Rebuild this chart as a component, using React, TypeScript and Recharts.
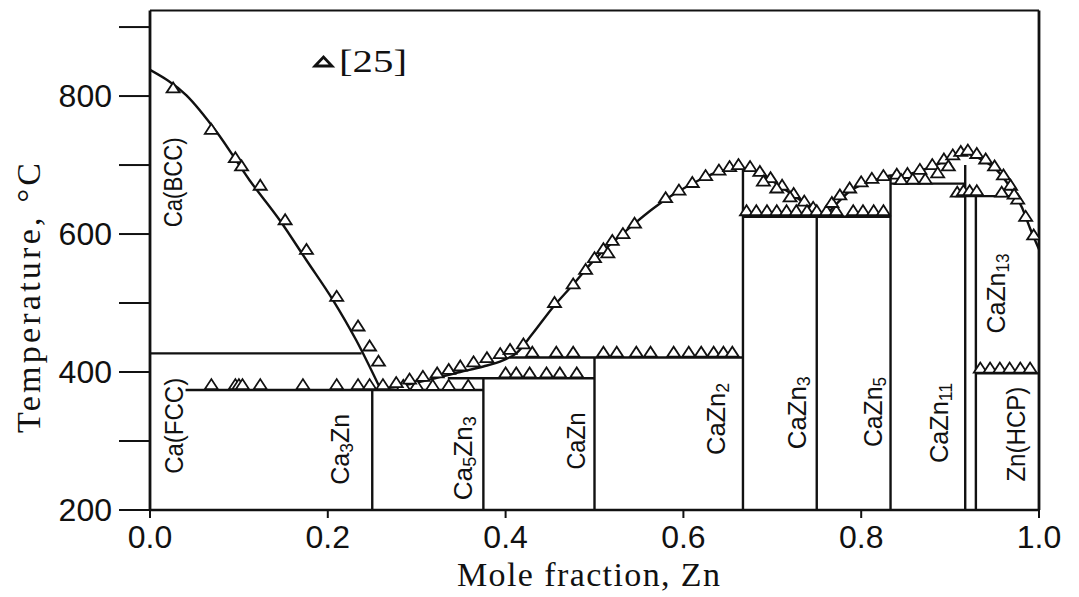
import React from 'react';
import { ComposedChart, Line, Scatter, XAxis, YAxis, ReferenceLine, Legend } from 'recharts';

// ---- axes ----
const xTicks = [0, 0.2, 0.4, 0.6, 0.8, 1.0];
const yTicksLeft = [200, 300, 400, 500, 600, 700, 800, 900];
const yTicksRight = [300, 400, 500, 600, 700, 800];
const yDomain: [number, number] = [200, 924];

// ---- calculated liquidus (Ca side) [x, T] ----
const caLiquidus: [number, number][] = [
  [0.0, 838], [0.041, 801], [0.075, 748], [0.112, 678], [0.146, 620],
  [0.176, 562], [0.206, 504], [0.232, 446], [0.259, 376],
];

// ---- calculated liquidus (Zn-rich side) [x, T] ----
const znLiquidus: [number, number][] = [
  [0.259, 376], [0.274, 378], [0.311, 388], [0.349, 400], [0.375, 408],
  [0.397, 417], [0.412, 427], [0.43, 455], [0.454, 495], [0.474, 524],
  [0.5, 563], [0.524, 592], [0.543, 613], [0.566, 637], [0.586, 655],
  [0.613, 675], [0.632, 687], [0.65, 694], [0.665, 696], [0.68, 692],
  [0.694, 682], [0.709, 669], [0.724, 656], [0.737, 644], [0.75, 633],
  [0.76, 629], [0.77, 641], [0.787, 662], [0.806, 674], [0.825, 682],
  [0.834, 685], [0.845, 684], [0.862, 690], [0.881, 698], [0.9, 710],
  [0.915, 717], [0.934, 709], [0.953, 692], [0.968, 667], [0.981, 638],
  [0.99, 608], [1.0, 578],
];

// ---- invariant (horizontal) lines: [xFrom, xTo, T] ----
const invariantLines: [number, number, number][] = [
  [0.0, 0.238, 427],
  [0.04, 0.375, 374],
  [0.335, 0.5, 391],
  [0.405, 0.667, 421],
  [0.667, 0.833, 625],
  [0.833, 0.917, 673],
  [0.905, 0.976, 655],
  [0.929, 1.0, 398],
];

// ---- compound (vertical) lines: [x, Ttop] ----
const compoundLines: [number, number][] = [
  [0.25, 374], [0.375, 391], [0.5, 421], [0.667, 695],
  [0.75, 625], [0.833, 686], [0.917, 700], [0.929, 655],
];

// ---- experimental points, ref [25]: [x, T] ----
const measured: [number, number][] = [
  // Ca liquidus
  [0.026, 811], [0.069, 751], [0.096, 710], [0.103, 698], [0.124, 670], [0.152, 620],
  [0.176, 577], [0.21, 509], [0.234, 466], [0.247, 437], [0.257, 415],
  // eutectic ~374
  [0.069, 381], [0.096, 381], [0.1, 381], [0.104, 381], [0.124, 381], [0.172, 381],
  [0.21, 381], [0.234, 381], [0.247, 381], [0.262, 381], [0.285, 380], [0.3, 380],
  [0.318, 380], [0.336, 380], [0.358, 380],
  // liquidus 0.27-0.41
  [0.277, 384], [0.292, 389], [0.307, 393], [0.323, 398], [0.336, 403], [0.349, 408],
  [0.364, 414], [0.379, 420], [0.394, 426], [0.405, 432],
  // ~391 line
  [0.4, 398], [0.412, 398], [0.427, 398], [0.446, 398], [0.461, 398], [0.48, 398],
  // ~421 line
  [0.43, 428], [0.457, 428], [0.476, 428], [0.51, 428], [0.525, 428], [0.547, 428],
  [0.563, 428], [0.589, 428], [0.606, 428], [0.62, 428], [0.634, 428], [0.645, 428],
  [0.655, 428],
  // liquidus to CaZn2
  [0.42, 440], [0.455, 500], [0.476, 527], [0.49, 548], [0.5, 565], [0.51, 578],
  [0.515, 572], [0.52, 590], [0.532, 600], [0.545, 615], [0.58, 652], [0.595, 663],
  [0.61, 674], [0.625, 684], [0.64, 692], [0.652, 697], [0.662, 700],
  // CaZn2 -> CaZn3
  [0.675, 697], [0.686, 690], [0.698, 681], [0.711, 670], [0.724, 658], [0.736, 647],
  [0.746, 638], [0.69, 676], [0.705, 666], [0.72, 653],
  // ~625 line
  [0.671, 633], [0.682, 633], [0.694, 633], [0.705, 633], [0.716, 633], [0.727, 633],
  [0.739, 633], [0.75, 633], [0.761, 633], [0.772, 633], [0.791, 633], [0.802, 633],
  [0.814, 633], [0.825, 633],
  // rising to CaZn5 / CaZn11
  [0.767, 645], [0.776, 656], [0.787, 666], [0.8, 675], [0.812, 680], [0.825, 684],
  [0.84, 686], [0.852, 687], [0.866, 693], [0.88, 700], [0.893, 708], [0.903, 714],
  [0.912, 719], [0.92, 721], [0.845, 678], [0.858, 679], [0.872, 679], [0.886, 688],
  [0.898, 698],
  // descending to Zn
  [0.93, 716], [0.94, 708], [0.95, 698], [0.96, 685], [0.968, 670], [0.976, 650],
  [0.985, 625], [0.994, 598],
  // ~655 line
  [0.908, 660], [0.915, 662], [0.922, 662], [0.93, 662], [0.958, 660], [0.972, 657],
  // Zn eutectic ~398
  [0.934, 405], [0.945, 405], [0.956, 405], [0.967, 405], [0.979, 405], [0.99, 405],
];

// ---- phase labels: x, T, text parts, drawn length ----
type Part = { t: string; sub?: boolean };
const phaseLabels: { x: number; y: number; parts: Part[]; len: number }[] = [
  { x: 0.026, y: 675, parts: [{ t: 'Ca(BCC)' }], len: 90 },
  { x: 0.027, y: 322, parts: [{ t: 'Ca(FCC)' }], len: 96 },
  { x: 0.214, y: 288, parts: [{ t: 'Ca' }, { t: '3', sub: true }, { t: 'Zn' }], len: 71 },
  { x: 0.352, y: 275, parts: [{ t: 'Ca' }, { t: '5', sub: true }, { t: 'Zn' }, { t: '3', sub: true }], len: 84 },
  { x: 0.479, y: 300, parts: [{ t: 'CaZn' }], len: 57 },
  { x: 0.637, y: 332, parts: [{ t: 'CaZn' }, { t: '2', sub: true }], len: 72 },
  { x: 0.728, y: 341, parts: [{ t: 'CaZn' }, { t: '3', sub: true }], len: 73 },
  { x: 0.813, y: 342, parts: [{ t: 'CaZn' }, { t: '5', sub: true }], len: 70 },
  { x: 0.888, y: 326, parts: [{ t: 'CaZn' }, { t: '11', sub: true }], len: 80 },
  { x: 0.952, y: 514, parts: [{ t: 'CaZn' }, { t: '13', sub: true }], len: 80 },
  { x: 0.974, y: 310, parts: [{ t: 'Zn(HCP)' }], len: 95 },
];

const SANS = '"Liberation Sans", Arial, Helvetica, sans-serif';
const SERIF = '"Liberation Serif", "Times New Roman", Times, serif';
const INK = '#111';

const toPts = (arr: [number, number][]) => arr.map(([x, y]) => ({ x, y }));

const Triangle = (p: any) => {
  const { cx, cy } = p;
  if (cx == null || cy == null) return <g />;
  return (
    <polygon
      points={`${cx},${cy - 6} ${cx - 6.5},${cy + 4} ${cx + 6.5},${cy + 4}`}
      fill="#fff"
      stroke={INK}
      strokeWidth={1.8}
    />
  );
};

const PhaseLabel = (p: any) => {
  const { cx, cy, payload } = p;
  if (cx == null || cy == null || !payload) return <g />;
  const parts: Part[] = payload.parts || [];
  let shifted = false;
  return (
    <text
      x={cx}
      y={cy}
      transform={`rotate(-90 ${cx} ${cy})`}
      textAnchor="middle"
      dominantBaseline="central"
      fontFamily={SANS}
      fontSize={26}
      fill={INK}
      textLength={payload.len}
      lengthAdjust="spacingAndGlyphs"
    >
      {parts.map((pt, i) => {
        if (pt.sub) {
          shifted = true;
          return (
            <tspan key={i} dy={7} fontSize={18}>
              {pt.t}
            </tspan>
          );
        }
        const dy = shifted ? -7 : 0;
        shifted = false;
        return (
          <tspan key={i} dy={dy}>
            {pt.t}
          </tspan>
        );
      })}
    </text>
  );
};

const renderLegend = () => (
  <svg width={115} height={40} style={{ display: 'block' }}>
    <polygon points="10,21 18.5,12 27,21" fill="#fff" stroke={INK} strokeWidth={2.8} />
    <text x={34} y={27} fontFamily={SERIF} fontSize={31} fill={INK} textLength={68} lengthAdjust="spacingAndGlyphs">
      [25]
    </text>
  </svg>
);

const XTitle = () => (
  <text x={580.5} y={578} textAnchor="middle" fontFamily={SERIF} fontSize={34} fill={INK} textLength={263}>
    Mole fraction, Zn
  </text>
);

const YTitle = () => (
  <text
    transform="rotate(-90)"
    x={-290}
    y={32}
    textAnchor="middle"
    fontFamily={SERIF}
    fontSize={34}
    fill={INK}
    textLength={270}
  >
    Temperature, °C
  </text>
);

export default function App() {
  const lineProps = {
    yAxisId: 'left',
    dataKey: 'y',
    stroke: INK,
    dot: false,
    activeDot: false,
    isAnimationActive: false,
    legendType: 'none' as const,
  };
  return (
    <ComposedChart width={1071} height={589} margin={{ top: 2.5, right: 0, bottom: 0, left: 0 }}>
      <XAxis
        dataKey="x"
        type="number"
        domain={[0, 1]}
        ticks={xTicks}
        interval={0}
        allowDataOverflow
        tickFormatter={(v: number) => v.toFixed(1)}
        height={87}
        tickSize={8}
        tickMargin={7}
        axisLine={{ stroke: INK, strokeWidth: 2.5 }}
        tickLine={{ stroke: INK, strokeWidth: 2 }}
        tick={{ fill: INK, fontSize: 32, fontFamily: SANS }}
        label={<XTitle />}
      />
      <YAxis
        yAxisId="left"
        dataKey="y"
        type="number"
        domain={yDomain}
        ticks={yTicksLeft}
        interval={0}
        allowDataOverflow
        width={142}
        tickSize={31}
        tickMargin={7}
        tickFormatter={(v: number) => (v % 200 === 0 && v <= 800 ? String(v) : '')}
        axisLine={{ stroke: INK, strokeWidth: 2.8 }}
        tickLine={{ stroke: INK, strokeWidth: 2 }}
        tick={{ fill: INK, fontSize: 32, fontFamily: SANS }}
        label={<YTitle />}
      />
      <YAxis
        yAxisId="right"
        orientation="right"
        type="number"
        domain={yDomain}
        ticks={yTicksRight}
        interval={0}
        allowDataOverflow
        width={40}
        tickSize={8}
        tick={false}
        axisLine={{ stroke: INK, strokeWidth: 2.8 }}
        tickLine={{ stroke: INK, strokeWidth: 2 }}
      />
      <ReferenceLine yAxisId="left" y={yDomain[1]} stroke={INK} strokeWidth={2.2} />

      {invariantLines.map(([a, b, t], i) => (
        <Line key={`h${i}`} {...lineProps} type="linear" strokeWidth={2.4} data={[{ x: a, y: t }, { x: b, y: t }]} />
      ))}
      {compoundLines.map(([x, top], i) => (
        <Line key={`v${i}`} {...lineProps} type="linear" strokeWidth={2.4} data={[{ x, y: 200 }, { x, y: top }]} />
      ))}
      <Line {...lineProps} type="monotone" strokeWidth={2.4} data={toPts(caLiquidus)} />
      <Line {...lineProps} type="monotone" strokeWidth={2.4} data={toPts(znLiquidus)} />

      <Scatter
        yAxisId="left"
        dataKey="y"
        name="[25]"
        data={toPts(measured)}
        shape={Triangle}
        isAnimationActive={false}
      />
      <Scatter
        yAxisId="left"
        dataKey="y"
        data={phaseLabels}
        shape={PhaseLabel}
        isAnimationActive={false}
        legendType="none"
      />
      <Legend
        layout="horizontal"
        verticalAlign="middle"
        align="center"
        content={renderLegend}
        wrapperStyle={{ position: 'absolute', left: 297, top: 37, width: 115, height: 40 }}
      />
    </ComposedChart>
  );
}
